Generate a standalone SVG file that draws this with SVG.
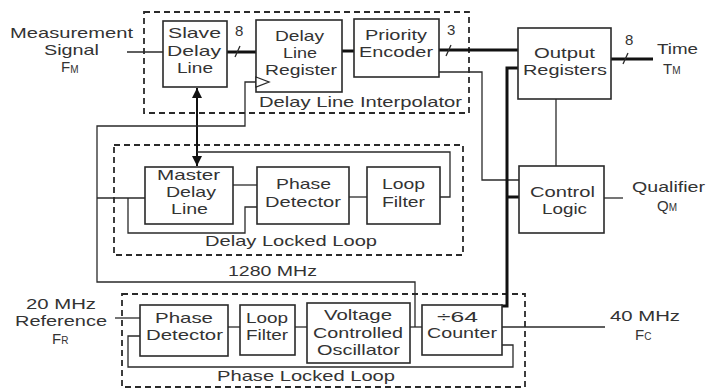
<svg xmlns="http://www.w3.org/2000/svg" width="707" height="389" viewBox="0 0 707 389">
<defs>
<style>
.box{fill:#fff;stroke:#2a2a2a;stroke-width:1.6}
.dash{fill:none;stroke:#2a2a2a;stroke-width:1.8;stroke-dasharray:6 4}
.ln{fill:none;stroke:#2a2a2a;stroke-width:1.3}
.thk{fill:none;stroke:#111;stroke-width:3}
.arr{fill:none;stroke:#111;stroke-width:2}
text{font-family:"Liberation Sans",Arial,sans-serif;font-size:15px;fill:#333}
.sub{font-size:10px}
</style>
<marker id="ah" viewBox="0 0 10 10" refX="10" refY="5" markerUnits="userSpaceOnUse" markerWidth="11" markerHeight="10" orient="auto-start-reverse">
<path d="M0,0 L10,5 L0,10 z" fill="#111"/>
</marker>
</defs>
<rect width="707" height="389" fill="#fff"/>

<g id="delay-line-interpolator">
<rect class="dash" x="144" y="12" width="325" height="101"/>
<text x="259" y="107" textLength="203" lengthAdjust="spacingAndGlyphs">Delay Line Interpolator</text>
</g>
<g id="delay-locked-loop">
<rect class="dash" x="114" y="145" width="349" height="110"/>
<text x="205" y="246" textLength="172" lengthAdjust="spacingAndGlyphs">Delay Locked Loop</text>
</g>
<g id="phase-locked-loop">
<rect class="dash" x="122" y="294" width="403" height="93"/>
<text x="217" y="381" textLength="178" lengthAdjust="spacingAndGlyphs">Phase Locked Loop</text>
</g>

<g id="connectors">
<path class="ln" d="M127 52 H163"/>
<path class="thk" d="M227 52 H256"/>
<path class="ln" d="M235 57 L240 46"/>
<path class="thk" d="M342 51 H354"/>
<path class="thk" d="M439 50 H518"/>
<path class="ln" d="M446 56 L451 45"/>
<path class="ln" d="M439 72 H482 V180 H519"/>
<path class="thk" d="M611 59 H653"/>
<path class="ln" d="M623 64 L628 53"/>
<path class="ln" d="M556 99 V166"/>
<path class="thk" d="M518 68 H507 V306 H501"/>
<path class="thk" d="M507 197 H519"/>
<path class="ln" d="M604 198 H623"/>
<path class="arr" d="M197 88 V166" marker-start="url(#ah)" marker-end="url(#ah)"/>
<path class="ln" d="M415 327 V282 H97 V126 H245 V82 H256"/>
<path class="ln" d="M97 198 H145"/>
<path class="ln" d="M128 198 V233 H245 V207 H257"/>
<path class="ln" d="M233 185 H257"/>
<path class="ln" d="M349 197 H367"/>
<path class="ln" d="M440 197 H450 V152 H197"/>
<path class="ln" d="M115 318 H140"/>
<path class="ln" d="M228 327 H240"/>
<path class="ln" d="M295 327 H307"/>
<path class="ln" d="M410 327 H422"/>
<path class="ln" d="M502 327 H605"/>
<path class="ln" d="M502 345 H513 V367 H128 V336 H140"/>
</g>

<g id="measurement-signal">
<text x="10" y="38" textLength="123" lengthAdjust="spacingAndGlyphs">Measurement</text>
<text x="44" y="55" textLength="55" lengthAdjust="spacingAndGlyphs">Signal</text>
<text x="61" y="72" font-size="16">F<tspan class="sub" dy="1">M</tspan></text>
</g>
<g id="slave-delay-line">
<rect class="box" x="163" y="21" width="64" height="66"/>
<text x="168" y="38" textLength="53" lengthAdjust="spacingAndGlyphs">Slave</text>
<text x="167" y="56" textLength="54" lengthAdjust="spacingAndGlyphs">Delay</text>
<text x="177" y="73" textLength="36" lengthAdjust="spacingAndGlyphs">Line</text>
</g>
<g id="bus-label-8a"><text x="235" y="36">8</text></g>
<g id="delay-line-register">
<rect class="box" x="256" y="20" width="86" height="72"/>
<polygon points="256,77 269,82 256,87" fill="#fff" stroke="#2a2a2a" stroke-width="1.3"/>
<text x="275" y="41" textLength="49" lengthAdjust="spacingAndGlyphs">Delay</text>
<text x="283" y="58" textLength="34" lengthAdjust="spacingAndGlyphs">Line</text>
<text x="265" y="75" textLength="72" lengthAdjust="spacingAndGlyphs">Register</text>
</g>
<g id="priority-encoder">
<rect class="box" x="354" y="19" width="85" height="58"/>
<text x="365" y="40" textLength="62" lengthAdjust="spacingAndGlyphs">Priority</text>
<text x="359" y="57" textLength="74" lengthAdjust="spacingAndGlyphs">Encoder</text>
</g>
<g id="bus-label-3"><text x="447" y="35">3</text></g>
<g id="output-registers">
<rect class="box" x="518" y="28" width="93" height="71"/>
<text x="534" y="58" textLength="61" lengthAdjust="spacingAndGlyphs">Output</text>
<text x="523" y="75" textLength="84" lengthAdjust="spacingAndGlyphs">Registers</text>
</g>
<g id="bus-label-8b"><text x="625" y="45">8</text></g>
<g id="time-output">
<text x="657" y="54" textLength="41" lengthAdjust="spacingAndGlyphs">Time</text>
<text x="663" y="74" font-size="16">T<tspan class="sub" dy="0">M</tspan></text>
</g>
<g id="master-delay-line">
<rect class="box" x="145" y="167" width="88" height="57"/>
<text x="157" y="180" textLength="63" lengthAdjust="spacingAndGlyphs">Master</text>
<text x="166" y="197" textLength="50" lengthAdjust="spacingAndGlyphs">Delay</text>
<text x="171" y="214" textLength="37" lengthAdjust="spacingAndGlyphs">Line</text>
</g>
<g id="dll-phase-detector">
<rect class="box" x="257" y="167" width="92" height="57"/>
<text x="276" y="189" textLength="55" lengthAdjust="spacingAndGlyphs">Phase</text>
<text x="265" y="207" textLength="76" lengthAdjust="spacingAndGlyphs">Detector</text>
</g>
<g id="dll-loop-filter">
<rect class="box" x="367" y="167" width="73" height="57"/>
<text x="382" y="189" textLength="43" lengthAdjust="spacingAndGlyphs">Loop</text>
<text x="382" y="207" textLength="43" lengthAdjust="spacingAndGlyphs">Filter</text>
</g>
<g id="control-logic">
<rect class="box" x="519" y="166" width="85" height="67"/>
<text x="530" y="197" textLength="65" lengthAdjust="spacingAndGlyphs">Control</text>
<text x="542" y="214" textLength="45" lengthAdjust="spacingAndGlyphs">Logic</text>
</g>
<g id="qualifier-output">
<text x="632" y="192" textLength="73" lengthAdjust="spacingAndGlyphs">Qualifier</text>
<text x="657" y="211" font-size="16">Q<tspan class="sub" dy="0">M</tspan></text>
</g>
<g id="clock-label"><text x="228" y="276" textLength="89" lengthAdjust="spacingAndGlyphs">1280 MHz</text></g>
<g id="reference-input">
<text x="26" y="309" textLength="70" lengthAdjust="spacingAndGlyphs">20 MHz</text>
<text x="15" y="326" textLength="92" lengthAdjust="spacingAndGlyphs">Reference</text>
<text x="52" y="344" font-size="16">F<tspan class="sub" dy="0">R</tspan></text>
</g>
<g id="pll-phase-detector">
<rect class="box" x="140" y="305" width="88" height="51"/>
<text x="155" y="323" textLength="58" lengthAdjust="spacingAndGlyphs">Phase</text>
<text x="146" y="340" textLength="77" lengthAdjust="spacingAndGlyphs">Detector</text>
</g>
<g id="pll-loop-filter">
<rect class="box" x="240" y="305" width="55" height="50"/>
<text x="246" y="323" textLength="42" lengthAdjust="spacingAndGlyphs">Loop</text>
<text x="246" y="340" textLength="42" lengthAdjust="spacingAndGlyphs">Filter</text>
</g>
<g id="vco">
<rect class="box" x="307" y="303" width="103" height="60"/>
<text x="324" y="320" textLength="68" lengthAdjust="spacingAndGlyphs">Voltage</text>
<text x="313" y="338" textLength="90" lengthAdjust="spacingAndGlyphs">Controlled</text>
<text x="317" y="355" textLength="83" lengthAdjust="spacingAndGlyphs">Oscillator</text>
</g>
<g id="counter">
<rect class="box" x="422" y="305" width="80" height="50"/>
<text x="437" y="322" textLength="41" lengthAdjust="spacingAndGlyphs">÷64</text>
<text x="427" y="338" textLength="70" lengthAdjust="spacingAndGlyphs">Counter</text>
</g>
<g id="fc-output">
<text x="610" y="321" textLength="70" lengthAdjust="spacingAndGlyphs">40 MHz</text>
<text x="635" y="340" font-size="16">F<tspan class="sub" dy="0">C</tspan></text>
</g>
</svg>
